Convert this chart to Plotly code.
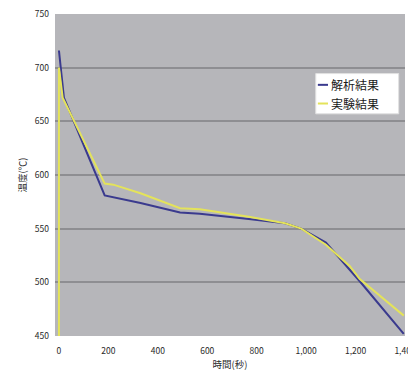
import plotly.graph_objects as go

# 解析結果 (analysis)
ana_t = [0, 20, 185, 330, 490, 570, 768, 915, 980, 1080, 1217, 1395]
ana_v = [716, 672, 581, 574, 565, 564, 559, 555, 550, 537, 501, 452]
# 実験結果 (experiment)
exp_t = [0, 0, 15, 185, 220, 330, 490, 570, 768, 915, 980, 1080, 1177, 1217, 1395]
exp_v = [450, 700, 672, 592, 591, 583, 569, 568, 561, 555, 550, 535, 515, 503, 469]

x_ticks = [0, 200, 400, 600, 800, 1000, 1200, 1400]
x_labels = ["0", "200", "400", "600", "800", "1,000", "1,200", "1,400"]
y_ticks = [450, 500, 550, 600, 650, 700, 750]

names = ["解析結果", "実験結果"]
colors = ["#3a3a8e", "#e4e35a"]

font = "Noto Sans CJK JP, Noto Sans, sans-serif"

fig = go.Figure()
fig.add_trace(go.Scatter(x=ana_t, y=ana_v, mode="lines", name=names[0],
                         line=dict(color=colors[0], width=2), showlegend=False))
fig.add_trace(go.Scatter(x=exp_t, y=exp_v, mode="lines", name=names[1],
                         line=dict(color=colors[1], width=2), showlegend=False))

# Compact legend (short line keys) drawn in paper coordinates
fig.add_shape(type="rect", xref="paper", yref="paper",
              x0=0.745, x1=0.982, y0=0.690, y1=0.815,
              fillcolor="white", line=dict(color="#e0e0e0", width=1), layer="above")
for i, (nm, c) in enumerate(zip(names, colors)):
    yy = [0.780, 0.722][i]
    fig.add_shape(type="line", xref="paper", yref="paper",
                  x0=0.751, x1=0.780, y0=yy, y1=yy,
                  line=dict(color=c, width=2), layer="above")
    fig.add_annotation(xref="paper", yref="paper", x=0.784, y=yy,
                       text=nm, showarrow=False, xanchor="left", yanchor="middle",
                       font=dict(size=12, color="#1a1a1a"))

fig.update_layout(
    width=408, height=366,
    margin=dict(l=47, r=11, t=6, b=38),
    paper_bgcolor="white",
    plot_bgcolor="#b6b6ba",
    font=dict(family=font, size=8.5, color="#2a2a2a"),
    showlegend=False,
    xaxis=dict(range=[-16, 1400], tickvals=x_ticks, ticktext=x_labels,
               showgrid=False, zeroline=False, showline=False, automargin=False,
               ticks="", ticklabeloverflow="allow", ticklabelstandoff=8,
               title=dict(text="時間(秒)", font=dict(size=9.5), standoff=6)),
    yaxis=dict(range=[450, 750], tickvals=y_ticks,
               showgrid=True, gridcolor="#8e8e92", gridwidth=1.5,
               zeroline=False, showline=False, ticks="", automargin=False,
               ticklabeloverflow="allow", ticklabelstandoff=5,
               title=dict(text="温度(℃)", font=dict(size=9.5), standoff=6)),
)

fig.write_html("out.html")
